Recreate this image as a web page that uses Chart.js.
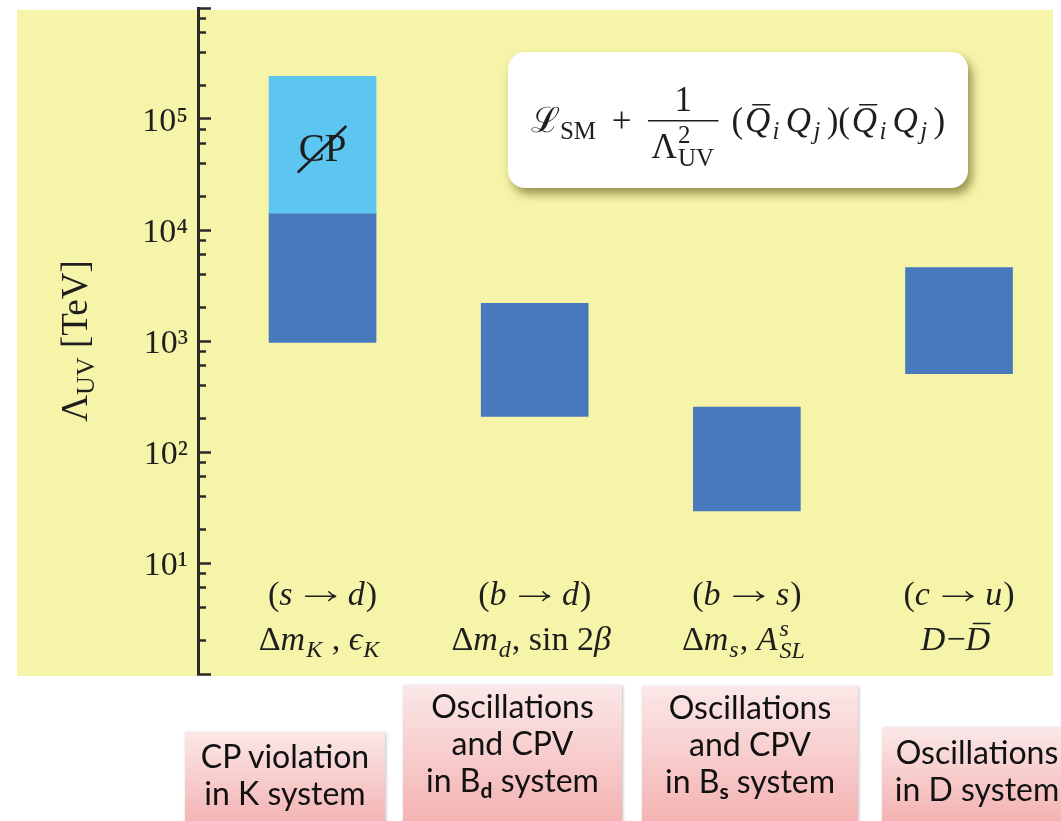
<!DOCTYPE html>
<html><head><meta charset="utf-8">
<script src="https://cdn.jsdelivr.net/npm/chart.js@4.4.1/dist/chart.umd.min.js"></script>
<style>
html,body{margin:0;padding:0;background:#fff;overflow:hidden;}
#wrap{position:relative;width:1061px;height:821px;overflow:hidden;}
canvas{position:absolute;left:0;top:0;}
.note{position:absolute;box-sizing:border-box;text-align:center;font-family:Lato,'Open Sans',sans-serif;font-size:32px;line-height:37px;color:#111;background:linear-gradient(to bottom,#fbe8e8 0%,#f6c2c2 60%,#f2aaaa 100%);box-shadow:1px 1px 3px rgba(0,0,0,0.25);white-space:nowrap;}
.note sub{font-size:21px;font-weight:bold;vertical-align:-6px;line-height:0;}
</style></head>
<body><div id="wrap"><canvas id="c" width="1061" height="821"></canvas></div>
<script>
// ---------------- data ----------------
const categories = ['K', 'Bd', 'Bs', 'D'];
const boundLow  = [970, 209, 29.5, 507];      // Lambda_UV lower edge [TeV]
const boundHigh = [14200, 2190, 254, 4590];   // Lambda_UV upper edge [TeV]
const cpvLow  = [14200];                      // CP-violating (K system) extension
const cpvHigh = [242000];
const yMajorTicks = [1, 10, 100, 1000, 10000, 100000, 1000000];
const yTickLabels = ['', '10\u00B9', '10\u00B2', '10\u00B3', '10\u2074', '10\u2075', ''];
const yMinorTicks = [1, 10, 100, 1000, 10000, 100000].flatMap(d => [2, 4, 6, 8].map(m => m * d));

// rich-text labels (math typeset)
const transitionLabels = [
  [{t:'('},{t:'s',it:1},{gap:0.3},{arrow:1},{gap:0.3},{t:'d',it:1},{t:')'}],
  [{t:'('},{t:'b',it:1},{gap:0.3},{arrow:1},{gap:0.3},{t:'d',it:1},{t:')'}],
  [{t:'('},{t:'b',it:1},{gap:0.3},{arrow:1},{gap:0.3},{t:'s',it:1},{t:')'}],
  [{t:'('},{t:'c',it:1},{gap:0.3},{arrow:1},{gap:0.3},{t:'u',it:1},{t:')'}]
];
const observableLabels = [
  [{t:'\u0394'},{t:'m',it:1},{t:'K',it:1,sub:1},{t:' , '},{t:'\u03F5',it:1},{t:'K',it:1,sub:1}],
  [{t:'\u0394'},{t:'m',it:1},{t:'d',it:1,sub:1},{t:', sin 2'},{t:'\u03B2',it:1}],
  [{t:'\u0394'},{t:'m',it:1},{t:'s',it:1,sub:1},{t:', '},{t:'A',it:1},{stack:['s','SL'],it:1}],
  [{t:'D',it:1},{t:'\u2212'},{t:'D',it:1,bar:1}]
];
const formulaRuns = [
  {t:'\u2112'},{t:'SM',sub:1},{gap:0.45},{t:'+'},{gap:0.4},
  {frac:{num:[{t:'1'}], den:[{t:'\u039B'},{stack:['2','UV']}]}},
  {gap:0.3},{t:'('},{gap:0.05},{t:'Q',it:1,bar:1},{gap:0.04},{t:'i',it:1,sub:1},{gap:0.15},
  {t:'Q',it:1},{gap:0.04},{t:'j',it:1,sub:1},{gap:0.15},{t:')('},{gap:0.05},
  {t:'Q',it:1,bar:1},{gap:0.04},{t:'i',it:1,sub:1},{gap:0.15},{t:'Q',it:1},{gap:0.04},{t:'j',it:1,sub:1},{gap:0.15},{t:')'}
];
const yTitleRuns = [{t:'\u039B'},{t:'UV',sub:1},{t:' [TeV]'}];
const noteTexts = [
  'CP violation<br>in K system',
  'Oscillations<br>and CPV<br>in B<sub>d</sub> system',
  'Oscillations<br>and CPV<br>in B<sub>s</sub> system',
  'Oscillations<br>in D system'
];

// ---------------- styling / layout ----------------
const noteBoxes = [
  {left:185, top:732, width:200, height:110, pad:5},
  {left:403, top:685, width:219, height:160, pad:2},
  {left:642, top:686, width:216, height:160, pad:2},
  {left:882, top:727, width:190, height:110, pad:6}
];
const SERIF = "'Liberation Serif','DejaVu Serif',serif";
const INK = '#1e1e1e';
const fnt = (sz, it) => (it ? 'italic ' : '') + sz + 'px ' + SERIF;

function runWidth(ctx, r, base) {
  const small = Math.round(base * 0.7);
  if (r.gap !== undefined) return r.gap * base;
  if (r.arrow) return base * 1.0;
  if (r.frac) return Math.max(runsWidth(ctx, r.frac.num, base), runsWidth(ctx, r.frac.den, base)) + 12;
  if (r.stack) {
    ctx.font = fnt(small, r.it);
    return Math.max(ctx.measureText(r.stack[0]).width, ctx.measureText(r.stack[1]).width) + 2;
  }
  ctx.font = fnt((r.sub || r.sup) ? small : base, r.it);
  return ctx.measureText(r.t).width + (r.it ? 1 : 0);
}
function runsWidth(ctx, runs, base) { return runs.reduce((s, r) => s + runWidth(ctx, r, base), 0); }
function drawRuns(ctx, runs, x, y, base) {
  const small = Math.round(base * 0.7);
  ctx.textAlign = 'left'; ctx.textBaseline = 'alphabetic';
  for (const r of runs) {
    const w = runWidth(ctx, r, base);
    if (r.gap !== undefined) {
      // spacing only
    } else if (r.arrow) {
      const ay = y - base * 0.26;
      ctx.beginPath(); ctx.lineWidth = 1.5; ctx.strokeStyle = INK; ctx.lineCap = 'round';
      ctx.moveTo(x + 2, ay); ctx.lineTo(x + w - 2, ay);
      ctx.moveTo(x + w - 2 - base * 0.2, ay - base * 0.13); ctx.quadraticCurveTo(x + w - 6, ay - 1, x + w - 2, ay);
      ctx.moveTo(x + w - 2 - base * 0.2, ay + base * 0.13); ctx.quadraticCurveTo(x + w - 6, ay + 1, x + w - 2, ay);
      ctx.stroke();
    } else if (r.frac) {
      const nw = runsWidth(ctx, r.frac.num, base), dw = runsWidth(ctx, r.frac.den, base);
      drawRuns(ctx, r.frac.num, x + (w - nw) / 2, y - base * 0.6, base);
      drawRuns(ctx, r.frac.den, x + (w - dw) / 2, y + base * 0.74, base);
      ctx.beginPath(); ctx.lineWidth = 1.4; ctx.strokeStyle = INK;
      ctx.moveTo(x + 3, y - base * 0.32); ctx.lineTo(x + w - 3, y - base * 0.32); ctx.stroke();
    } else if (r.stack) {
      ctx.font = fnt(small, r.it);
      ctx.fillText(r.stack[0], x + 1, y - base * 0.42);
      ctx.fillText(r.stack[1], x + 1, y + base * 0.24);
    } else {
      ctx.font = fnt((r.sub || r.sup) ? small : base, r.it);
      const dy = r.sub ? base * 0.2 : (r.sup ? -base * 0.42 : 0);
      ctx.fillText(r.t, x, y + dy);
      if (r.bar) {
        ctx.beginPath(); ctx.lineWidth = 1.4; ctx.strokeStyle = INK;
        ctx.moveTo(x + w * 0.3, y - base * 0.78); ctx.lineTo(x + w * 0.95, y - base * 0.78); ctx.stroke();
      }
    }
    x += w;
  }
}

const decorPlugin = {
  id: 'decor',
  beforeDraw(chart) {
    const ctx = chart.ctx;
    ctx.save();
    ctx.fillStyle = '#ffffff'; ctx.fillRect(0, 0, chart.width, chart.height);
    ctx.fillStyle = '#f6f4a8'; ctx.fillRect(17, 10, 1036, 666);
    ctx.restore();
  },
  afterDatasetsDraw(chart) {
    // crossed-out CP label on the CP-violating bar
    const ctx = chart.ctx, ys = chart.scales.y;
    const el = chart.getDatasetMeta(1).data[0];
    const yc = ys.getPixelForValue(Math.sqrt(cpvLow[0] * cpvHigh[0])) + 5;
    ctx.save();
    ctx.fillStyle = INK; ctx.font = fnt(39, 0); ctx.textAlign = 'center'; ctx.textBaseline = 'middle';
    ctx.fillText('CP', el.x, yc + 1);
    ctx.beginPath(); ctx.lineWidth = 2.6; ctx.strokeStyle = INK; ctx.lineCap = 'round';
    ctx.moveTo(el.x - 24, yc + 22); ctx.lineTo(el.x + 23, yc - 23); ctx.stroke();
    ctx.restore();
  },
  afterDraw(chart) {
    const ctx = chart.ctx, xs = chart.scales.x;
    ctx.save();
    ctx.fillStyle = INK;
    // category labels under the bars
    categories.forEach((c, i) => {
      const cx = xs.getPixelForValue(i);
      const w1 = runsWidth(ctx, transitionLabels[i], 34);
      drawRuns(ctx, transitionLabels[i], cx - w1 / 2, 605, 34);
      const w2 = runsWidth(ctx, observableLabels[i], 34);
      drawRuns(ctx, observableLabels[i], cx - w2 / 2 - 3, 650, 34);
    });
    // y axis title
    ctx.save();
    ctx.translate(87, 341); ctx.rotate(-Math.PI / 2);
    const tw = runsWidth(ctx, yTitleRuns, 37);
    drawRuns(ctx, yTitleRuns, -tw / 2, 0, 37);
    ctx.restore();
    // formula box
    ctx.save();
    ctx.shadowColor = 'rgba(90,80,20,0.6)'; ctx.shadowBlur = 10; ctx.shadowOffsetX = 4; ctx.shadowOffsetY = 6;
    ctx.fillStyle = '#ffffff';
    ctx.beginPath(); ctx.roundRect(508, 52, 460, 136, 17); ctx.fill();
    ctx.restore();
    ctx.fillStyle = INK;
    const fw = runsWidth(ctx, formulaRuns, 35);
    drawRuns(ctx, formulaRuns, 738 - fw / 2, 132, 35);
    ctx.restore();
  }
};

const ctx = document.getElementById('c').getContext('2d');
new Chart(ctx, {
  type: 'bar',
  data: {
    datasets: [
      {
        label: 'Bound on \u039B_UV',
        data: categories.map((c, i) => ({x: i, y: [boundLow[i], boundHigh[i]]})),
        backgroundColor: '#4879bc', borderWidth: 0, barThickness: 107, order: 2
      },
      {
        label: 'CP-violating bound',
        data: cpvLow.map((lo, i) => ({x: i, y: [lo, cpvHigh[i]]})),
        backgroundColor: '#5cc6f0', borderWidth: 0, barThickness: 107, order: 1
      }
    ]
  },
  options: {
    responsive: false, animation: false,
    layout: {padding: {left: 0, top: 8, right: 8, bottom: 147}},
    plugins: {legend: {display: false}, tooltip: {enabled: false}},
    scales: {
      x: {type: 'linear', min: -0.587, max: 3.443, display: false, stacked: true, offset: false},
      y: {
        type: 'logarithmic', position: 'left', weight: 1, min: 1, max: 1e6, stacked: false,
        afterBuildTicks: s => { s.ticks = yMajorTicks.map(v => ({value: v, major: true})); },
        afterFit: s => { s.width = 198; s.paddingTop = 0; s.paddingBottom = 0; },
        border: {display: true, color: '#2a2a2a', width: 3},
        grid: {display: true, drawOnChartArea: false, drawTicks: true, tickLength: -13, tickColor: '#2a2a2a', tickWidth: 2.5},
        ticks: {padding: 23, labelOffset: 3, color: INK, font: {family: SERIF, size: 34},
                callback: (v, i) => yTickLabels[i]}
      },
      yMinor: {
        type: 'logarithmic', position: 'left', weight: 0, min: 1, max: 1e6,
        afterBuildTicks: s => { s.ticks = yMinorTicks.map(v => ({value: v})); },
        afterFit: s => { s.width = 0; s.paddingTop = 0; s.paddingBottom = 0; },
        border: {display: false},
        grid: {display: true, drawOnChartArea: false, drawTicks: true, tickLength: -8, tickColor: '#2a2a2a', tickWidth: 2.5},
        ticks: {display: false}
      }
    }
  },
  plugins: [decorPlugin]
});

// annotation boxes below the chart
const wrap = document.getElementById('wrap');
noteTexts.forEach((txt, i) => {
  const b = noteBoxes[i];
  const d = document.createElement('div');
  d.className = 'note';
  d.style.left = b.left + 'px'; d.style.top = b.top + 'px';
  d.style.width = b.width + 'px'; d.style.height = b.height + 'px';
  d.style.paddingTop = b.pad + 'px';
  d.innerHTML = txt;
  wrap.appendChild(d);
});
</script>
</body></html>
